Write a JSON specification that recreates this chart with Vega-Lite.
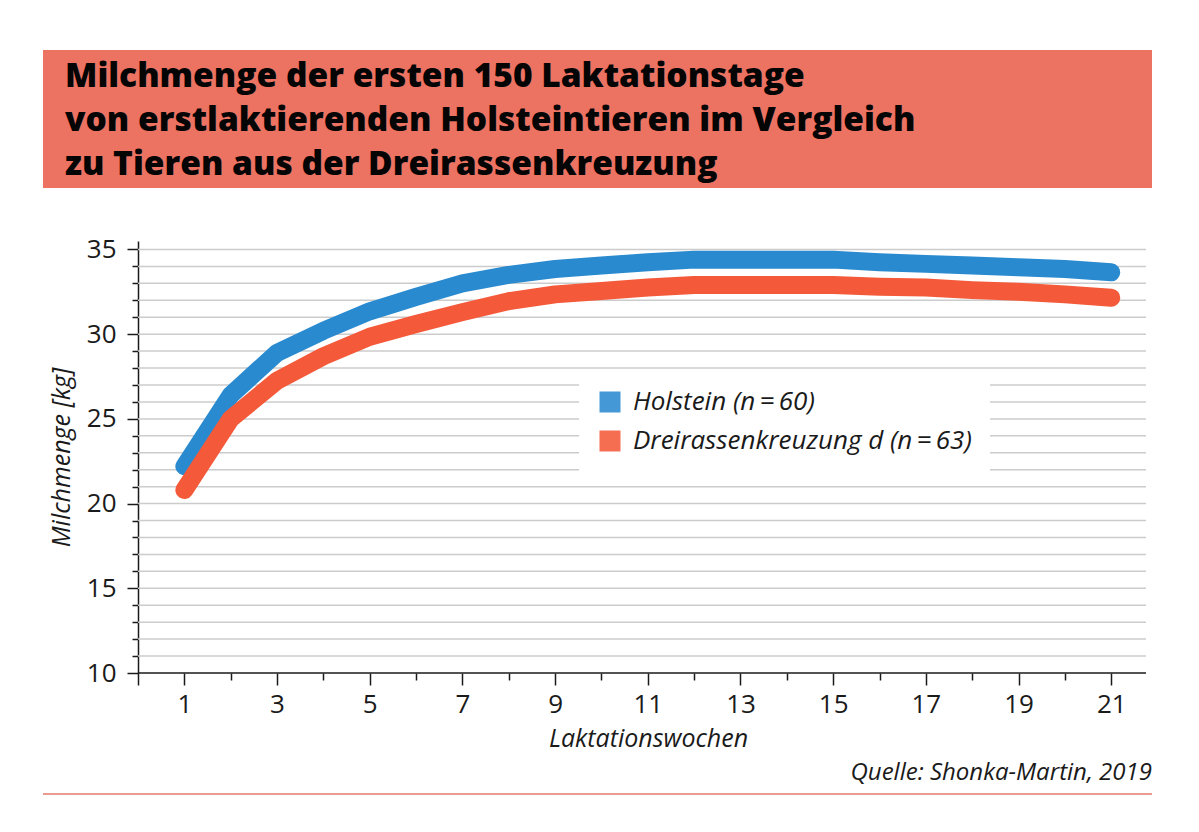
{
  "$schema": "https://vega.github.io/schema/vega-lite/v6.json",
  "background": "white",
  "padding": {"left": 43, "top": 50, "right": 47, "bottom": 5},
  "config": {
    "font": "Open Sans",
    "view": {"stroke": null},
    "axis": {"labelColor": "#1a1a1a", "titleColor": "#1a1a1a", "domainColor": "#1a1a1a", "tickColor": "#1a1a1a"}
  },
  "spacing": 48,
  "resolve": {"legend": {"color": "independent"}},
  "vconcat": [
    {
      "width": 1109,
      "height": 138,
      "view": {"fill": "#ec7262", "stroke": null},
      "title": {
        "text": ["Milchmenge der ersten 150 Laktationstage", "von erstlaktierenden Holsteintieren im Vergleich", "zu Tieren aus der Dreirassenkreuzung"],
        "anchor": "start",
        "frame": "group",
        "orient": "bottom",
        "baseline": "top",
        "offset": -127,
        "dx": 22,
        "fontSize": 33.5,
        "fontWeight": 800,
        "lineHeight": 44,
        "color": "#050505",
        "font": "Open Sans"
      },
      "data": {"values": []},
      "mark": "point"
    },
    {
      "spacing": 10,
      "resolve": {"legend": {"color": "independent"}},
      "vconcat": [
        {
          "width": 1103,
          "height": 432,
          "encoding": {
            "x": {
              "type": "quantitative",
              "scale": {"domain": [-2.05, 21.75], "nice": false, "zero": false},
              "axis": {
                "values": [0, 1, 2, 3, 4, 5, 6, 7, 8, 9, 10, 11, 12, 13, 14, 15, 16, 17, 18, 19, 20, 21],
                "labelExpr": "datum.value % 2 === 1 ? datum.label : ''",
                "tickSize": {"condition": {"test": "datum.value % 2 === 1 || datum.value === 0", "value": 12}, "value": 7},
                "tickWidth": 1.5,
                "domain": false,
                "grid": false,
                "labelFontSize": 26,
                "labelPadding": 6,
                "labelFlush": false,
                "labelOverlap": false,
                "title": "Laktationswochen",
                "titleFontSize": 25,
                "titleFontStyle": "italic",
                "titleFontWeight": "normal",
                "titlePadding": 9,
                "titleX": 605
              }
            },
            "y": {
              "field": "value",
              "type": "quantitative",
              "scale": {"domain": [10, 35.5], "nice": false, "zero": false},
              "axis": {
                "offset": -95,
                "values": [10, 11, 12, 13, 14, 15, 16, 17, 18, 19, 20, 21, 22, 23, 24, 25, 26, 27, 28, 29, 30, 31, 32, 33, 34, 35],
                "labelExpr": "datum.value % 5 === 0 ? datum.label : ''",
                "tickSize": {"condition": {"test": "datum.value % 5 === 0", "value": 11}, "value": 6},
                "tickWidth": 1.5,
                "domainWidth": 1.5,
                "grid": false,
                "labelFontSize": 26,
                "labelPadding": 11,
                "labelFlush": false,
                "labelOverlap": false,
                "title": "Milchmenge [kg]",
                "titleFontSize": 25,
                "titleFontStyle": "italic",
                "titleFontWeight": "normal",
                "titlePadding": 12
              }
            }
          },
          "layer": [
            {
              "data": {"values": [{"value": 11}, {"value": 12}, {"value": 13}, {"value": 14}, {"value": 15}, {"value": 16}, {"value": 17}, {"value": 18}, {"value": 19}, {"value": 20}, {"value": 21}, {"value": 22}, {"value": 23}, {"value": 24}, {"value": 25}, {"value": 26}, {"value": 27}, {"value": 28}, {"value": 29}, {"value": 30}, {"value": 31}, {"value": 32}, {"value": 33}, {"value": 34}, {"value": 35}]},
              "mark": {"type": "rule", "color": "#cccccc", "strokeWidth": 1.5},
              "encoding": {
                "x": {"datum": 0, "type": "quantitative"},
                "x2": {"datum": 21.75}
              }
            },
            {
              "data": {"values": [{"value": 10}]},
              "mark": {"type": "rule", "color": "#1a1a1a", "strokeWidth": 1.5},
              "encoding": {
                "x": {"datum": 0, "type": "quantitative"},
                "x2": {"datum": 21.75}
              }
            },
            {
              "data": {
                "values": [
                  {"week": 1, "value": 22.2, "series": "Holstein"},
                  {"week": 2, "value": 26.4, "series": "Holstein"},
                  {"week": 3, "value": 28.9, "series": "Holstein"},
                  {"week": 4, "value": 30.2, "series": "Holstein"},
                  {"week": 5, "value": 31.35, "series": "Holstein"},
                  {"week": 6, "value": 32.2, "series": "Holstein"},
                  {"week": 7, "value": 33.0, "series": "Holstein"},
                  {"week": 8, "value": 33.5, "series": "Holstein"},
                  {"week": 9, "value": 33.85, "series": "Holstein"},
                  {"week": 10, "value": 34.05, "series": "Holstein"},
                  {"week": 11, "value": 34.25, "series": "Holstein"},
                  {"week": 12, "value": 34.4, "series": "Holstein"},
                  {"week": 13, "value": 34.4, "series": "Holstein"},
                  {"week": 14, "value": 34.4, "series": "Holstein"},
                  {"week": 15, "value": 34.4, "series": "Holstein"},
                  {"week": 16, "value": 34.25, "series": "Holstein"},
                  {"week": 17, "value": 34.15, "series": "Holstein"},
                  {"week": 18, "value": 34.05, "series": "Holstein"},
                  {"week": 19, "value": 33.95, "series": "Holstein"},
                  {"week": 20, "value": 33.85, "series": "Holstein"},
                  {"week": 21, "value": 33.65, "series": "Holstein"},
                  {"week": 1, "value": 20.8, "series": "Dreirassenkreuzung"},
                  {"week": 2, "value": 25.0, "series": "Dreirassenkreuzung"},
                  {"week": 3, "value": 27.25, "series": "Dreirassenkreuzung"},
                  {"week": 4, "value": 28.7, "series": "Dreirassenkreuzung"},
                  {"week": 5, "value": 29.85, "series": "Dreirassenkreuzung"},
                  {"week": 6, "value": 30.6, "series": "Dreirassenkreuzung"},
                  {"week": 7, "value": 31.3, "series": "Dreirassenkreuzung"},
                  {"week": 8, "value": 31.95, "series": "Dreirassenkreuzung"},
                  {"week": 9, "value": 32.35, "series": "Dreirassenkreuzung"},
                  {"week": 10, "value": 32.55, "series": "Dreirassenkreuzung"},
                  {"week": 11, "value": 32.75, "series": "Dreirassenkreuzung"},
                  {"week": 12, "value": 32.9, "series": "Dreirassenkreuzung"},
                  {"week": 13, "value": 32.9, "series": "Dreirassenkreuzung"},
                  {"week": 14, "value": 32.9, "series": "Dreirassenkreuzung"},
                  {"week": 15, "value": 32.9, "series": "Dreirassenkreuzung"},
                  {"week": 16, "value": 32.8, "series": "Dreirassenkreuzung"},
                  {"week": 17, "value": 32.75, "series": "Dreirassenkreuzung"},
                  {"week": 18, "value": 32.6, "series": "Dreirassenkreuzung"},
                  {"week": 19, "value": 32.5, "series": "Dreirassenkreuzung"},
                  {"week": 20, "value": 32.35, "series": "Dreirassenkreuzung"},
                  {"week": 21, "value": 32.15, "series": "Dreirassenkreuzung"}
                ]
              },
              "mark": {"type": "line", "strokeWidth": 18, "strokeCap": "round", "strokeJoin": "round"},
              "encoding": {
                "x": {"field": "week", "type": "quantitative"},
                "color": {
                  "field": "series",
                  "type": "nominal",
                  "scale": {"domain": ["Holstein", "Dreirassenkreuzung"], "range": ["#2a8acf", "#f45a3a"]},
                  "legend": {
                    "orient": "none",
                    "legendX": 536,
                    "legendY": 130,
                    "title": null,
                    "fillColor": "white",
                    "padding": 18,
                    "symbolType": "square",
                    "symbolSize": 441,
                    "symbolStrokeWidth": 0,
                    "labelFontSize": 26,
                    "labelFontStyle": "italic",
                    "labelColor": "#1a1a1a",
                    "labelOffset": 10,
                    "labelLimit": 600,
                    "rowPadding": 13,
                    "labelExpr": "datum.value === 'Holstein' ? 'Holstein (n\u2009=\u200960)' : 'Dreirassenkreuzung d (n\u2009=\u200963)'",
                    "encode": {
                      "symbols": {"update": {"fill": {"scale": "color", "field": "value"}, "fillOpacity": {"value": 0.88}, "strokeWidth": {"value": 0}}}
                    }
                  }
                }
              }
            }
          ]
        },
        {
          "width": 1109,
          "height": 2,
          "view": {"fill": "#eb9b8d", "stroke": null},
          "title": {
            "text": "Quelle: Shonka-Martin, 2019",
            "anchor": "end",
            "frame": "group",
            "orient": "top",
            "offset": 8,
            "fontSize": 24,
            "fontWeight": "normal",
            "fontStyle": "italic",
            "color": "#1a1a1a",
            "font": "Open Sans"
          },
          "data": {"values": []},
          "mark": "point"
        }
      ]
    }
  ]
}
